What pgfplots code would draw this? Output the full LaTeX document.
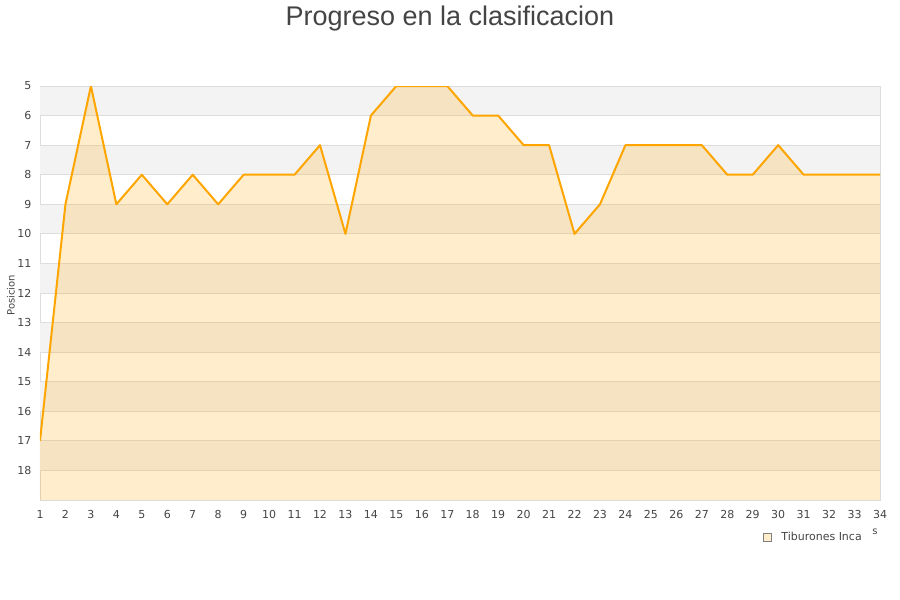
\documentclass[border=0pt]{standalone}
\usepackage{pgfplots}
\pgfplotsset{compat=1.18}
\usepackage{fontspec}
\setmainfont{DejaVu Sans}
\newfontfamily\titlefont{Liberation Sans}
\definecolor{bandgray}{HTML}{F3F3F3}
\definecolor{gridc}{HTML}{DDDDDD}
\definecolor{lineor}{HTML}{FFA500}
\definecolor{areaf}{HTML}{FFA500}
\definecolor{legf}{HTML}{FFEDCC}
\definecolor{txt}{HTML}{444444}
\begin{document}
\begin{tikzpicture}
\useasboundingbox (0,0) rectangle (900pt,600pt);
\node[font=\titlefont\fontsize{27}{32}\selectfont, text=txt, anchor=base] at (450pt,574pt) {Progreso en la clasificacion};
\node[font=\fontsize{10}{11}\selectfont, text=txt] at (875pt,68pt) {s};
\begin{axis}[at={(40pt,100pt)}, anchor=south west, scale only axis, width=840pt, height=414pt,
  xmin=1, xmax=34, ymin=5, ymax=19, y dir=reverse,
  xtick={1,...,34}, ytick={5,...,18},
  major tick length=0pt,
  axis line style={draw=gridc},
  tick label style={font=\fontsize{11}{12}\selectfont, text=txt},
  xticklabel style={yshift=-7pt},
  yticklabel style={xshift=-5pt},
  /pgf/number format/assume math mode=true,
  ylabel={Posicion},
  ylabel style={font=\fontsize{10}{11}\selectfont, text=txt, at={(axis description cs:-0.0345,0.495)}, anchor=center},
  legend style={at={(0.857,-0.089)}, anchor=west, draw=none, fill=none, font=\fontsize{11}{12}\selectfont, text=txt},
  legend cell align=left,
  clip=true,
]
\pgfplotsinvokeforeach{5,7,...,17}{
  \fill[bandgray] (axis cs:1,#1) rectangle (axis cs:34,#1+1);
}
\pgfplotsinvokeforeach{5,...,19}{
  \draw[gridc, line width=1pt] (axis cs:1,#1) -- (axis cs:34,#1);
}
\addplot[fill=areaf, fill opacity=0.2, draw=none,
  legend image code/.code={\draw[fill=legf, draw=gray, line width=0.6pt, fill opacity=1] (0pt,-4pt) rectangle (8pt,4pt); \path (16pt,0pt);}]
  coordinates {(1,19) (1,17) (2,9) (3,5) (4,9) (5,8) (6,9) (7,8) (8,9) (9,8) (10,8) (11,8) (12,7) (13,10) (14,6) (15,5) (16,5) (17,5) (18,6) (19,6) (20,7) (21,7) (22,10) (23,9) (24,7) (25,7) (26,7) (27,7) (28,8) (29,8) (30,7) (31,8) (32,8) (33,8) (34,8) (34,19)} -- cycle;
\addlegendentry{Tiburones Inca}
\addplot[lineor, line width=2pt, line join=round, forget plot]
  coordinates {(1,17) (2,9) (3,5) (4,9) (5,8) (6,9) (7,8) (8,9) (9,8) (10,8) (11,8) (12,7) (13,10) (14,6) (15,5) (16,5) (17,5) (18,6) (19,6) (20,7) (21,7) (22,10) (23,9) (24,7) (25,7) (26,7) (27,7) (28,8) (29,8) (30,7) (31,8) (32,8) (33,8) (34,8)};
\end{axis}
\end{tikzpicture}
\end{document}
